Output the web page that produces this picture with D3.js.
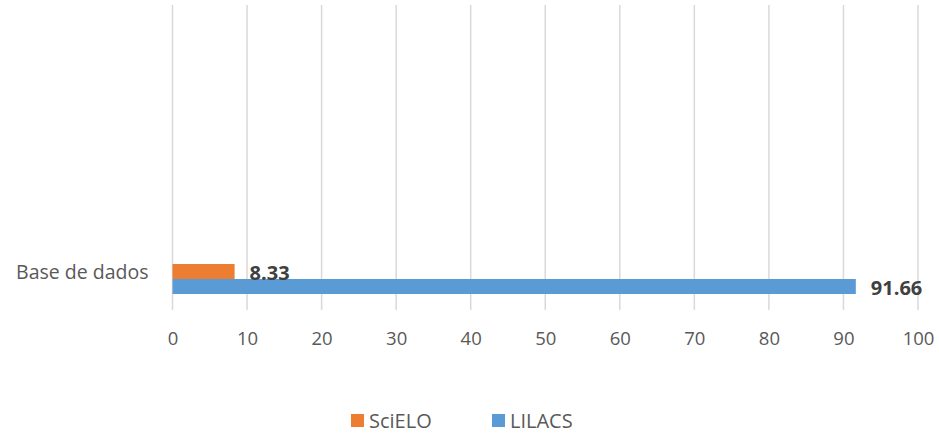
<!DOCTYPE html>
<html>
<head>
<meta charset="utf-8">
<script src="https://cdn.jsdelivr.net/npm/d3@7"></script>
<style>
html,body{margin:0;padding:0;background:#fff;}
svg{display:block;}
text{font-family:"Open Sans","Noto Sans",sans-serif;}
</style>
</head>
<body>
<svg id="chart" width="939" height="434"></svg>
<script>
const categories = ["Base de dados"];
const seriesNames = ["SciELO", "LILACS"];
const seriesColors = ["#ED7D31", "#5B9BD5"];
const scieloValues = [8.33];
const lilacsValues = [91.66];
const xTicks = [0, 10, 20, 30, 40, 50, 60, 70, 80, 90, 100];

const svg = d3.select("#chart");
const x = d3.scaleLinear().domain([0, 100]).range([172.5, 918]);
const y = d3.scaleBand().domain(categories).range([264, 294]).padding(0);
const ySub = d3.scaleBand().domain(seriesNames).range([0, y.bandwidth()]).padding(0);

// gridlines
svg.append("g").selectAll("line").data(xTicks).join("line")
  .attr("x1", d => x(d)).attr("x2", d => x(d))
  .attr("y1", 5).attr("y2", 310)
  .attr("stroke", "#D9D9D9").attr("stroke-width", 1.5);

// x axis labels
const xAxis = d3.axisBottom(x).tickValues(xTicks).tickSize(0).tickPadding(0);
const gx = svg.append("g").attr("transform", "translate(0,332)").call(xAxis);
gx.select(".domain").remove();
gx.selectAll("text").attr("font-size", 18.5).attr("fill", "#595959")
  .attr("font-family", "'Open Sans','Noto Sans',sans-serif");

// category axis labels
const yAxis = d3.axisLeft(y).tickSize(0).tickPadding(24);
const gy = svg.append("g").attr("transform", "translate(172.5,0)").call(yAxis);
gy.select(".domain").remove();
gy.selectAll("text").attr("font-size", 19.5).attr("fill", "#595959")
  .attr("dy", "0.32em")
  .attr("font-family", "'Open Sans','Noto Sans',sans-serif")
  .attr("transform", "translate(0,-6)");

const rows = [];
categories.forEach((c, i) => {
  rows.push({cat: c, series: "SciELO", value: scieloValues[i], color: seriesColors[0]});
  rows.push({cat: c, series: "LILACS", value: lilacsValues[i], color: seriesColors[1]});
});

svg.append("g").selectAll("rect").data(rows).join("rect")
  .attr("x", x(0))
  .attr("y", d => y(d.cat) + ySub(d.series))
  .attr("width", d => x(d.value) - x(0))
  .attr("height", ySub.bandwidth())
  .attr("fill", d => d.color);

svg.append("g").selectAll("text").data(rows).join("text")
  .attr("x", d => x(d.value) + 15)
  .attr("y", d => y(d.cat) + ySub(d.series) + ySub.bandwidth() / 2 + 1)
  .attr("dy", "0.35em")
  .attr("font-size", 20).attr("font-weight", "bold").attr("fill", "#404040")
  .text(d => d.value.toFixed(2));

// legend
const legendX = [351, 492];
const lg = svg.append("g");
seriesNames.forEach((s, i) => {
  lg.append("rect").attr("x", legendX[i]).attr("y", 414).attr("width", 13).attr("height", 13).attr("fill", seriesColors[i]);
  lg.append("text").attr("x", legendX[i] + 18).attr("y", 420.5).attr("dy", "0.35em")
    .attr("font-size", 20).attr("fill", "#595959").text(s);
});
</script>
</body>
</html>
